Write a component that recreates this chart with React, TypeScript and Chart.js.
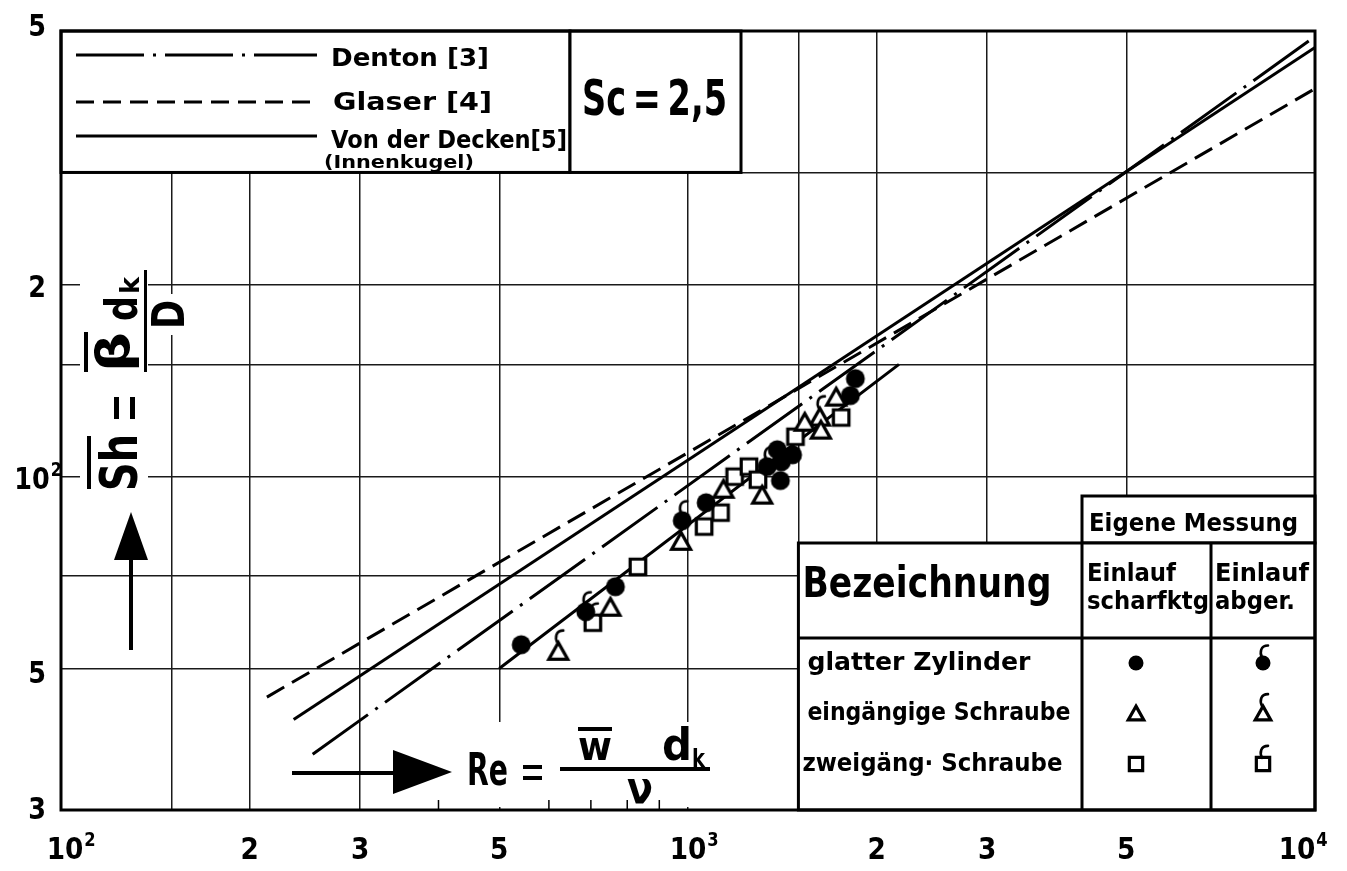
import React, { useEffect, useRef } from "react";
import { Chart, registerables } from "chart.js";

Chart.register(...registerables);

// ================= data =================
const RE_MIN = 100;
const RE_MAX = 10000;
const SH_MIN = 30;
const SH_MAX = 500;

const RE_GRID = [100, 150, 200, 300, 500, 1000, 1500, 2000, 3000, 5000, 10000];
const SH_GRID = [30, 50, 70, 100, 150, 200, 300, 500];
const RE_MINOR_TICKS = [400, 600, 700, 800, 900];

const RE_TICK_VALUES = [100, 200, 300, 500, 1000, 2000, 3000, 5000, 10000];
const RE_TICK_BASE = ["10", "2", "3", "5", "10", "2", "3", "5", "10"];
const RE_TICK_SUP = ["2", "", "", "", "3", "", "", "", "4"];
const SH_TICK_VALUES = [500, 200, 100, 50, 30];
const SH_TICK_BASE = ["5", "2", "10", "5", "3"];
const SH_TICK_SUP = ["", "", "2", "", ""];

// correlations (straight lines in log-log)
const DENTON_RE = [252, 10000];
const DENTON_SH = [36.7, 490];
const GLASER_RE = [213, 10000];
const GLASER_SH = [45.1, 406];
const DECKEN_RE = [235, 10000];
const DECKEN_SH = [41.6, 471];
const FIT_RE = [500, 2170];
const FIT_SH = [50, 150];

// own measurements
const ZYL_SCHARF_RE = [542, 766, 1069, 1388, 1409, 1404, 1468, 1815, 1849];
const ZYL_SCHARF_SH = [54.5, 67.2, 91.0, 110.2, 105.5, 98.6, 108.2, 134, 142.5];
const ZYL_ABGER_RE = [687, 979, 1337];
const ZYL_ABGER_SH = [61.4, 85.3, 103.7];
const EIN_SCHARF_RE = [752, 975, 1139, 1313, 1535, 1629, 1723];
const EIN_SCHARF_SH = [62.5, 79.3, 95.7, 93.7, 121.9, 118.5, 133.5];
const EIN_ABGER_RE = [621, 1623];
const EIN_ABGER_SH = [53.3, 124.2];
const ZWEI_SCHARF_RE = [832, 1061, 1127, 1187, 1251, 1293, 1484, 1755];
const ZWEI_SCHARF_SH = [72.2, 83.5, 87.8, 100, 103.7, 98.9, 115.5, 123.8];
const ZWEI_ABGER_RE = [705];
const ZWEI_ABGER_SH = [59.0];

// texts
const LEGEND_LABELS = ["Denton [3]", "Glaser [4]", "Von der Decken[5]"];
const LEGEND_NOTE = "(Innenkugel)";
const SC_LABEL = "Sc\u2009=\u20092,5";
const TABLE_HEAD = "Eigene Messung";
const TABLE_TITLE = "Bezeichnung";
const TABLE_COL1 = ["Einlauf", "scharfktg"];
const TABLE_COL2 = ["Einlauf", "abger."];
const TABLE_ROWS = ["glatter Zylinder", "eingängige Schraube", "zweigäng· Schraube"];

// ================= styling / layout =================
const FONT = '"DejaVu Sans", "Liberation Sans", sans-serif';
const W = 1347;
const H = 871;

function fitText(ctx: any, s: string, left: number, baseline: number, width: number, size: number, weight = "bold") {
  ctx.save();
  ctx.font = `${weight} ${size}px ${FONT}`;
  ctx.textAlign = "left";
  ctx.textBaseline = "alphabetic";
  const w = ctx.measureText(s).width || 1;
  ctx.translate(left, baseline);
  ctx.scale(width / w, 1);
  ctx.fillStyle = "#000";
  ctx.fillText(s, 0, 0);
  ctx.restore();
}

function tickLabel(ctx: any, base: string, sup: string, cx: number, baseline: number, size: number) {
  ctx.save();
  ctx.fillStyle = "#000";
  ctx.font = `bold ${size}px ${FONT}`;
  const w = ctx.measureText(base).width * 0.85;
  fitText(ctx, base, cx - w / 2, baseline, w, size);
  if (sup) {
    const s2 = size * 0.62;
    ctx.font = `bold ${s2}px ${FONT}`;
    const w2 = ctx.measureText(sup).width * 0.85;
    fitText(ctx, sup, cx + w / 2 + 1, baseline - size * 0.42, w2, s2);
  }
  ctx.restore();
}

function drawMarker(ctx: any, shape: string, cx: number, cy: number, s: number, flag: boolean) {
  ctx.save();
  ctx.strokeStyle = "#000";
  ctx.fillStyle = "#000";
  ctx.lineWidth = 3.2;
  ctx.lineJoin = "miter";
  let top = cy;
  if (shape === "circle") {
    const r = s / 2;
    ctx.beginPath();
    ctx.arc(cx, cy, r, 0, Math.PI * 2);
    ctx.fill();
    top = cy - r;
  } else if (shape === "triangle") {
    const w = s * 0.86;
    const h = s * 0.76;
    ctx.beginPath();
    ctx.moveTo(cx, cy - h / 2);
    ctx.lineTo(cx + w / 2, cy + h / 2);
    ctx.lineTo(cx - w / 2, cy + h / 2);
    ctx.closePath();
    ctx.fillStyle = "#fff";
    ctx.fill();
    ctx.stroke();
    top = cy - h / 2 - 2;
  } else {
    const q = s * 0.74;
    ctx.beginPath();
    ctx.rect(cx - q / 2, cy - q / 2, q, q);
    ctx.fillStyle = "#fff";
    ctx.fill();
    ctx.stroke();
    top = cy - q / 2 - 1.5;
  }
  if (flag) {
    ctx.lineWidth = 2.6;
    ctx.lineCap = "round";
    ctx.beginPath();
    ctx.moveTo(cx - 1, top + 2);
    ctx.bezierCurveTo(cx - 3.5, top - 3, cx - 2.5, top - 10, cx + 5, top - 10);
    ctx.stroke();
  }
  ctx.restore();
}

function makeMarker(shape: string, s: number, flag: boolean) {
  const c = document.createElement("canvas");
  c.width = 40;
  c.height = 52;
  const g = c.getContext("2d");
  drawMarker(g, shape, 20, 26, s, flag);
  return c;
}

function whiteBox(ctx: any, x: number, y: number, w: number, h: number) {
  ctx.save();
  ctx.fillStyle = "#fff";
  ctx.fillRect(x, y, w, h);
  ctx.strokeStyle = "#000";
  ctx.lineWidth = 3;
  ctx.strokeRect(x, y, w, h);
  ctx.restore();
}

function hline(ctx: any, x1: number, y1: number, x2: number, y2: number, lw = 3) {
  ctx.save();
  ctx.strokeStyle = "#000";
  ctx.lineWidth = lw;
  ctx.beginPath();
  ctx.moveTo(x1, y1);
  ctx.lineTo(x2, y2);
  ctx.stroke();
  ctx.restore();
}

const DASH_DENTON = [68, 9, 3, 9];
const DASH_GLASER = [20, 9];
const DASH_GLASER_LEGEND = [18, 9];

const decorPlugin = {
  id: "decor",
  beforeDraw(chart: any) {
    const ctx = chart.ctx;
    ctx.save();
    ctx.fillStyle = "#fff";
    ctx.fillRect(0, 0, chart.width, chart.height);
    ctx.restore();
  },
  beforeDatasetsDraw(chart: any) {
    const ctx = chart.ctx;
    const a = chart.chartArea;
    const X = (v: number) => chart.scales.x.getPixelForValue(v);
    const Y = (v: number) => chart.scales.y.getPixelForValue(v);

    // ---- x axis label (white background) ----
    ctx.save();
    ctx.fillStyle = "#fff";
    ctx.fillRect(455, 722, 260, a.bottom - 725);
    ctx.fillStyle = "#000";
    ctx.fillRect(292, 771, 103, 4);
    ctx.beginPath();
    ctx.moveTo(393, 750);
    ctx.lineTo(452, 772);
    ctx.lineTo(393, 794);
    ctx.closePath();
    ctx.fill();
    fitText(ctx, "Re", 467, 785, 41, 44);
    ctx.fillRect(523, 765, 19, 4);
    ctx.fillRect(523, 776, 19, 4);
    ctx.fillRect(560, 767, 150, 4);
    fitText(ctx, "w", 578, 760, 34, 40);
    ctx.fillRect(578, 727, 34, 4);
    fitText(ctx, "d", 662, 760, 30, 44);
    fitText(ctx, "k", 692, 767, 13, 24);
    fitText(ctx, "ν", 627, 803, 26, 44);
    ctx.restore();

    // minor ticks on the Re axis
    RE_MINOR_TICKS.forEach((v) => hline(ctx, X(v), a.bottom, X(v), a.bottom - 10, 1.5));

    // ---- y axis label (rotated) ----
    ctx.save();
    ctx.fillStyle = "#fff";
    ctx.fillRect(80, 268, 68, 229);
    ctx.fillRect(146, 294, 42, 41);
    ctx.fillStyle = "#000";
    ctx.beginPath();
    ctx.moveTo(131, 512);
    ctx.lineTo(148, 560);
    ctx.lineTo(114, 560);
    ctx.closePath();
    ctx.fill();
    ctx.fillRect(129, 558, 4, 92);
    ctx.translate(137, 491);
    ctx.rotate(-Math.PI / 2);
    fitText(ctx, "Sh", 0, 0, 57, 52);
    ctx.fillRect(2, -50, 53, 4);
    ctx.fillRect(72, -23, 22, 5);
    ctx.fillRect(72, -7, 22, 5);
    fitText(ctx, "β", 119, -8, 40, 46);
    ctx.fillRect(119, -53, 40, 4);
    fitText(ctx, "d", 170, 0, 25, 44);
    fitText(ctx, "k", 197, 2, 17, 26);
    ctx.fillRect(119, 7, 102, 3);
    fitText(ctx, "D", 162, 47, 29, 45);
    ctx.restore();

    // ---- legend box top-left ----
    const legBottom = Y(300);
    whiteBox(ctx, a.left, a.top, 570 - a.left, legBottom - a.top);
    whiteBox(ctx, 570, a.top, 741 - 570, legBottom - a.top);
    ctx.save();
    ctx.setLineDash(DASH_DENTON);
    hline(ctx, 76, 55, 317, 55);
    ctx.restore();
    ctx.save();
    ctx.setLineDash(DASH_GLASER_LEGEND);
    hline(ctx, 76, 102, 317, 102);
    ctx.restore();
    hline(ctx, 76, 136, 317, 136);
    fitText(ctx, LEGEND_LABELS[0], 331, 66, 158, 25);
    fitText(ctx, LEGEND_LABELS[1], 333, 110, 159, 25);
    fitText(ctx, LEGEND_LABELS[2], 331, 148, 236, 25);
    fitText(ctx, LEGEND_NOTE, 324, 168, 150, 17);
    fitText(ctx, SC_LABEL, 582, 115, 145, 50);

    // ---- table bottom-right ----
    const tl = X(1500);
    const tr = a.right;
    const tb = a.bottom;
    const headTop = 496;
    const top = 543;
    const row = 638;
    const c1 = 1082;
    const c2 = 1211;
    whiteBox(ctx, c1, headTop, tr - c1, top - headTop);
    whiteBox(ctx, tl, top, tr - tl, tb - top);
    hline(ctx, tl, row, tr, row);
    hline(ctx, c1, top, c1, tb);
    hline(ctx, c2, top, c2, tb);
    fitText(ctx, TABLE_HEAD, 1089, 531, 209, 25);
    fitText(ctx, TABLE_TITLE, tl + 4, 597, 249, 42);
    fitText(ctx, TABLE_COL1[0], 1087, 581, 89, 24);
    fitText(ctx, TABLE_COL1[1], 1087, 609, 122, 24);
    fitText(ctx, TABLE_COL2[0], 1215, 581, 94, 24);
    fitText(ctx, TABLE_COL2[1], 1215, 609, 80, 24);
    fitText(ctx, TABLE_ROWS[0], tl + 9, 670, 223, 24);
    fitText(ctx, TABLE_ROWS[1], tl + 9, 720, 263, 24);
    fitText(ctx, TABLE_ROWS[2], tl + 4, 771, 260, 24);
    const shapes = ["circle", "triangle", "square"];
    const rowsY = [663, 713, 764];
    const sizes = [15, 18, 18];
    shapes.forEach((sh, i) => {
      drawMarker(ctx, sh, 1136, rowsY[i], sizes[i], false);
      drawMarker(ctx, sh, 1263, rowsY[i], sizes[i], true);
    });
  },
  afterDatasetsDraw(chart: any) {
    const ctx = chart.ctx;
    const a = chart.chartArea;
    const X = (v: number) => chart.scales.x.getPixelForValue(v);
    const Y = (v: number) => chart.scales.y.getPixelForValue(v);
    ctx.save();
    ctx.strokeStyle = "#000";
    ctx.lineWidth = 3;
    ctx.strokeRect(a.left, a.top, a.right - a.left, a.bottom - a.top);
    ctx.restore();

    const xOff = [4, 0, 0, 0, 0, 0, 0, 0, -18];
    RE_TICK_VALUES.forEach((v, i) => {
      tickLabel(ctx, RE_TICK_BASE[i], RE_TICK_SUP[i], X(v) + xOff[i], 859, 31);
    });
    const yOff = [-6, 1, 1, 3, -2];
    SH_TICK_VALUES.forEach((v, i) => {
      const cx = SH_TICK_SUP[i] ? 32 : 37;
      tickLabel(ctx, SH_TICK_BASE[i], SH_TICK_SUP[i], cx, Y(v) + yOff[i] + 11, 30);
    });
  },
};

const pts = (re: number[], sh: number[]) => re.map((x, i) => ({ x, y: sh[i] }));

export default function App() {
  const ref = useRef<HTMLCanvasElement | null>(null);
  useEffect(() => {
    const canvas = ref.current;
    if (!canvas) return;
    const mk = {
      circle: makeMarker("circle", 19, false),
      circleF: makeMarker("circle", 19, true),
      tri: makeMarker("triangle", 22, false),
      triF: makeMarker("triangle", 22, true),
      sq: makeMarker("square", 21, false),
      sqF: makeMarker("square", 21, true),
    };
    const markerSet = (label: string, re: number[], sh: number[], style: any) => ({
      label,
      data: pts(re, sh),
      pointStyle: style,
      pointRadius: 9,
      showLine: false,
      order: 1,
    });
    const lineSet = (label: string, re: number[], sh: number[], dash: number[]) => ({
      label,
      data: pts(re, sh),
      showLine: true,
      borderColor: "#000",
      borderWidth: 3,
      borderDash: dash,
      borderCapStyle: "butt",
      pointRadius: 0,
      fill: false,
      tension: 0,
      order: 2,
    });
    const gridOpts = { color: "#1a1a1a", lineWidth: 1.5, drawTicks: false };
    const chart = new Chart(canvas, {
      type: "scatter",
      data: {
        datasets: [
          markerSet("glatter Zylinder, scharfkantig", ZYL_SCHARF_RE, ZYL_SCHARF_SH, mk.circle),
          markerSet("glatter Zylinder, abgerundet", ZYL_ABGER_RE, ZYL_ABGER_SH, mk.circleF),
          markerSet("eingängige Schraube, scharfkantig", EIN_SCHARF_RE, EIN_SCHARF_SH, mk.tri),
          markerSet("eingängige Schraube, abgerundet", EIN_ABGER_RE, EIN_ABGER_SH, mk.triF),
          markerSet("zweigängige Schraube, scharfkantig", ZWEI_SCHARF_RE, ZWEI_SCHARF_SH, mk.sq),
          markerSet("zweigängige Schraube, abgerundet", ZWEI_ABGER_RE, ZWEI_ABGER_SH, mk.sqF),
          lineSet("Denton [3]", DENTON_RE, DENTON_SH, DASH_DENTON),
          lineSet("Glaser [4]", GLASER_RE, GLASER_SH, DASH_GLASER),
          lineSet("Von der Decken [5]", DECKEN_RE, DECKEN_SH, []),
          lineSet("Ausgleichsgerade", FIT_RE, FIT_SH, []),
        ],
      } as any,
      options: {
        responsive: false,
        animation: false,
        devicePixelRatio: 1,
        events: [],
        layout: { padding: { left: 61, top: 31, right: 32, bottom: 61 }, autoPadding: false },
        plugins: { legend: { display: false }, tooltip: { enabled: false }, title: { display: false } },
        scales: {
          x: {
            type: "logarithmic",
            min: RE_MIN,
            max: RE_MAX,
            ticks: { display: false },
            grid: gridOpts,
            border: { display: false },
            afterBuildTicks: (s: any) => {
              s.ticks = RE_GRID.map((v) => ({ value: v }));
            },
          },
          y: {
            type: "logarithmic",
            min: SH_MIN,
            max: SH_MAX,
            ticks: { display: false },
            grid: gridOpts,
            border: { display: false },
            afterBuildTicks: (s: any) => {
              s.ticks = SH_GRID.map((v) => ({ value: v }));
            },
          },
        },
      } as any,
      plugins: [decorPlugin],
    });
    return () => chart.destroy();
  }, []);
  return (
    <div style={{ position: "fixed", left: 0, top: 0, width: W, height: H, background: "#fff" }}>
      <canvas ref={ref} width={W} height={H} style={{ display: "block", width: W, height: H }} />
    </div>
  );
}
